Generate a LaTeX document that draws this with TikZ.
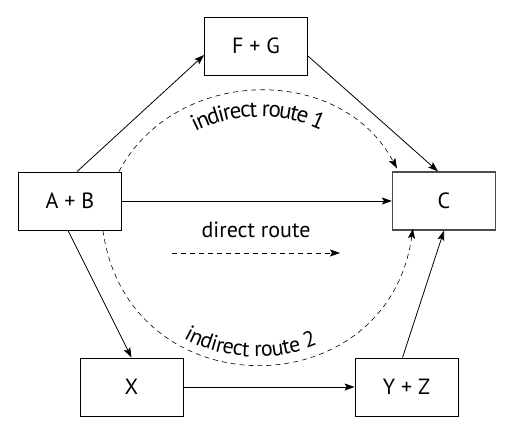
\documentclass[tikz,border=0pt]{standalone}
\usepackage{fontspec}
\setmainfont{PT Sans}
\usetikzlibrary{arrows.meta, decorations.text}

\begin{document}
\begin{tikzpicture}[x=1pt, y=1pt, >={Stealth[inset=2pt,length=10pt,width=7pt]},
                line width=0.8pt, font=\fontsize{22}{26}\selectfont,
                box/.style={draw, minimum width=103pt, minimum height=58pt, inner sep=0pt},
                route/.style={dash pattern=on 5pt off 4pt, line width=0.6pt},
                routetext/.style={decorate, decoration={text along path, raise=#1}}]

    \useasboundingbox (0,0) rectangle (520,436);

    \node[box] (ab) at (70,235) {A + B};
    \node[box] (fg) at (256,390) {F + G};
    \node[box, draw=black!70, line width=1.2pt] (c) at (444,235) {C};
    \node[box] (x) at (131.5,49) {X};
    \node[box] (yz) at (406.5,49) {Y + Z};

    \path[->]
    ([xshift=7pt]ab.north) edge ([yshift=-9pt]fg.west)
    ([yshift=-10pt]fg.east) edge ([xshift=-6pt]c.north)
    (ab.east) edge (c.west)
    ([xshift=-2pt]ab.south) edge (x.north)
    (x.east) edge (yz.west)
    ([xshift=-4pt]yz.north) edge (c.south);

    % indirect routes
    \draw[route, ->] ([xshift=-3pt]ab.north east) to[out=62, in=118, looseness=1.1] ([xshift=5pt, yshift=3pt]c.north west);
    \path[routetext=-26pt, decoration={text align={center}, text={|\fontsize{23}{27}\selectfont|indirect route 1}}]
        ([xshift=-3pt]ab.north east) to[out=62, in=118, looseness=1.1] ([xshift=5pt, yshift=3pt]c.north west);

    \draw[route, ->] ([xshift=-19pt]ab.south east) to[out=-82, in=-98, looseness=1.5] ([xshift=21pt, yshift=2pt]c.south west);
    \path[routetext=8pt, decoration={text align={center, right indent=18pt}, text={|\fontsize{22}{26}\selectfont|indirect route 2}}]
        ([xshift=-19pt]ab.south east) to[out=-82, in=-98, looseness=1.5] ([xshift=21pt, yshift=2pt]c.south west);

    % direct route
    \node[anchor=base] (dr) at (256,198) {direct route};
    \coordinate (ds) at (172,183);
    \coordinate (de) at (340,183);
    \draw[route, ->] (ds) -- (de);

\end{tikzpicture}
\end{document}
